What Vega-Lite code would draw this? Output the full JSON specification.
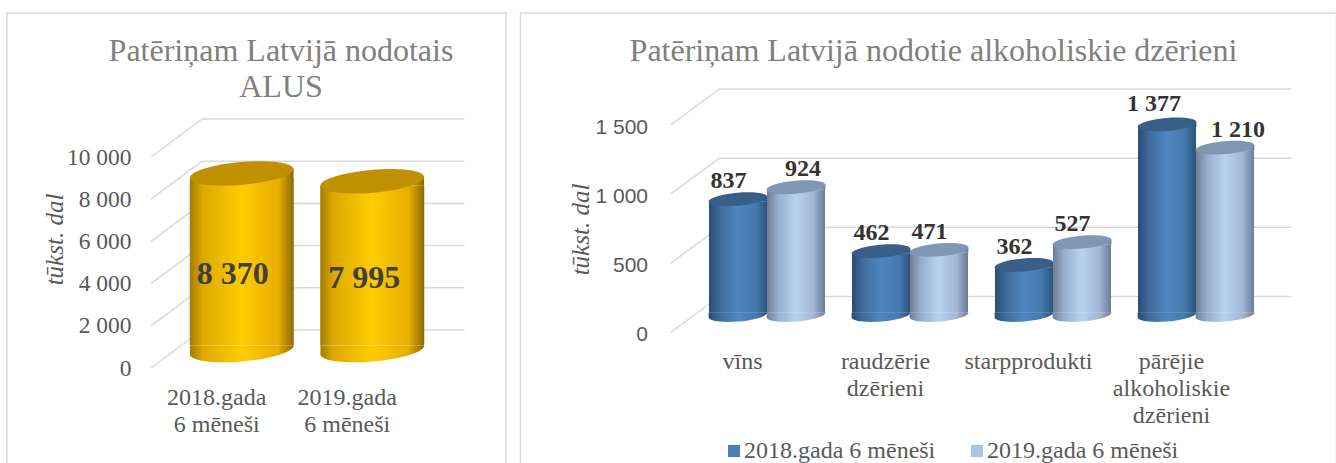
{
"$schema":"https://vega.github.io/schema/vega-lite/v6.json",
"padding":{"left":6,"top":12,"right":0,"bottom":0},
"autosize":{"type":"pad"},
"background":"white",
"spacing":12.5,
"config":{"view":{"stroke":"#d9d9d9","strokeWidth":1.5},"concat":{"spacing":12.5}},
"datasets":{
"beer":[{"period":"2018.gada 6 mēneši","value":8370,"label":"8 370"},{"period":"2019.gada 6 mēneši","value":7995,"label":"7 995"}],
"gridBeer":[{"value":0},{"value":2000},{"value":4000},{"value":6000},{"value":8000},{"value":10000}],
"gridAlc":[{"value":0},{"value":500},{"value":1000},{"value":1500}],
"alc":[
{"cat":"vīns","series":"2018.gada 6 mēneši","value":837,"label":"837"},
{"cat":"vīns","series":"2019.gada 6 mēneši","value":924,"label":"924"},
{"cat":"raudzērie dzērieni","series":"2018.gada 6 mēneši","value":462,"label":"462"},
{"cat":"raudzērie dzērieni","series":"2019.gada 6 mēneši","value":471,"label":"471"},
{"cat":"starpprodukti","series":"2018.gada 6 mēneši","value":362,"label":"362"},
{"cat":"starpprodukti","series":"2019.gada 6 mēneši","value":527,"label":"527"},
{"cat":"pārējie alkoholiskie dzērieni","series":"2018.gada 6 mēneši","value":1377,"label":"1 377"},
{"cat":"pārējie alkoholiskie dzērieni","series":"2019.gada 6 mēneši","value":1210,"label":"1 210"}
]},
"hconcat":[
{"width":499,"height":451,
"title":{"text":["Patēriņam Latvijā nodotais","ALUS"],"font":"Liberation Serif","fontSize":32,"fontWeight":"normal","color":"#7f7f7f","lineHeight":36,"anchor":"middle","frame":"group","dx":24.5,"orient":"top","offset":-91},
"encoding":{"y":{"field":"value","type":"quantitative","stack":null,"scale":{"domain":[0,10000],"range":[355,144],"nice":false,"zero":true},
"axis":{"title":"tūkst. dal","values":[0,2000,4000,6000,8000,10000],"grid":false,"domain":false,"ticks":false,"offset":-124,"labelPadding":0,"labelFont":"Liberation Serif","labelFontSize":23.5,"labelColor":"#595959","labelExpr":"replace(format(datum.value,','),',',' ')","titleFont":"Liberation Serif","titleFontStyle":"italic","titleFontWeight":"normal","titleFontSize":25,"titleColor":"#595959","titleX":-64,"titleY":226}}},
"layer":[
{"data":{"name":"gridBeer"},"layer":[
{"mark":{"type":"rule","color":"#d9d9d9","strokeWidth":1.5,"y2Offset":-38},
"encoding":{"x":{"datum":0,"type":"quantitative","scale":{"domain":[0,1],"range":[144,457.5]},"axis":null},"x2":{"datum":0.163},"y2":{"field":"value"}}},
{"mark":{"type":"rule","color":"#d9d9d9","strokeWidth":1.5,"yOffset":-38},
"encoding":{"x":{"datum":0.163,"type":"quantitative","scale":{"domain":[0,1],"range":[144,457.5]},"axis":null},"x2":{"datum":1}}}
]},
{"data":{"name":"beer"},
"encoding":{"x":{"field":"period","type":"nominal","sort":null,"scale":{"domain":["2018.gada 6 mēneši","2019.gada 6 mēneši"],"range":[169.5,430.5],"paddingInner":0,"paddingOuter":0},
"axis":{"title":null,"domain":false,"ticks":false,"labelAngle":0,"labelOffset":-25,"offset":-79,"labelPadding":0,"labelBaseline":"top","labelFont":"Liberation Serif","labelFontSize":24,"labelLineHeight":27,"labelColor":"#595959","labelExpr":"[slice(datum.label,0,9),slice(datum.label,10)]"}}},
"layer":[
{"mark":{"type":"point","filled":true,"opacity":1,"size":10816,"yOffset":-18,"shape":"M0.996,-0.087C1.007,0.034,0.569,0.171,0.019,0.219C-0.531,0.267,-0.986,0.208,-0.996,0.087L-0.996,-0.087Z","color":{"gradient":"linear","x1":0,"x2":1,"y1":0,"y2":0,"stops":[{"offset":0,"color":"#a37c00"},{"offset":0.12,"color":"#dba800"},{"offset":0.5,"color":"#ffcc00"},{"offset":0.85,"color":"#e8ae00"},{"offset":1,"color":"#8a6a00"}]}},"encoding":{"y":{"datum":0}}},
{"mark":{"type":"bar","width":104,"yOffset":-13.5,"y2Offset":-22.5,"color":{"gradient":"linear","x1":0,"x2":1,"y1":0,"y2":0,"stops":[{"offset":0,"color":"#a37c00"},{"offset":0.12,"color":"#dba800"},{"offset":0.5,"color":"#ffcc00"},{"offset":0.85,"color":"#e8ae00"},{"offset":1,"color":"#8a6a00"}]}},"encoding":{"y2":{"datum":0}}},
{"mark":{"type":"point","filled":true,"opacity":1,"size":10816,"yOffset":-18,"shape":"M-0.996,0.087L0.996,-0.087L0.996,0.087Z","color":{"gradient":"linear","x1":0,"x2":1,"y1":0,"y2":0,"stops":[{"offset":0,"color":"#a37c00"},{"offset":0.12,"color":"#dba800"},{"offset":0.5,"color":"#ffcc00"},{"offset":0.85,"color":"#e8ae00"},{"offset":1,"color":"#8a6a00"}]}}},
{"mark":{"type":"point","filled":true,"opacity":1,"size":10816,"yOffset":-18,"color":"#bf9000","shape":"M0.996,-0.087C1.007,0.034,0.569,0.171,0.019,0.219C-0.531,0.267,-0.986,0.208,-0.996,0.087C-1.007,-0.034,-0.569,-0.171,-0.019,-0.219C0.531,-0.267,0.986,-0.208,0.996,-0.087Z"}},
{"transform":[{"filter":"datum.value===8370"}],"mark":{"type":"text","font":"Liberation Serif","fontSize":32,"fontWeight":"bold","color":"#404040","dx":-9,"dy":83},"encoding":{"text":{"field":"label"}}},
{"transform":[{"filter":"datum.value===7995"}],"mark":{"type":"text","font":"Liberation Serif","fontSize":32,"fontWeight":"bold","color":"#404040","dx":-8,"dy":79},"encoding":{"text":{"field":"label"}}}
]}
],
"resolve":{"scale":{"x":"independent"}}
},
{"width":816,"height":451,
"title":{"text":"Patēriņam Latvijā nodotie alkoholiskie dzērieni","font":"Liberation Serif","fontSize":32,"fontWeight":"normal","color":"#7f7f7f","anchor":"middle","frame":"group","dx":5,"orient":"top","offset":-55},
"encoding":{"y":{"field":"value","type":"quantitative","stack":null,"scale":{"domain":[0,1500],"range":[319.5,112],"nice":false,"zero":true},
"axis":{"title":"tūkst. dal","values":[0,500,1000,1500],"grid":false,"domain":false,"ticks":false,"offset":-127,"labelPadding":0,"labelOffset":2,"labelFont":"Liberation Sans","labelFontSize":21,"labelColor":"#595959","labelExpr":"replace(format(datum.value,','),',',' ')","titleFont":"Liberation Serif","titleFontStyle":"italic","titleFontWeight":"normal","titleFontSize":25,"titleColor":"#595959","titleX":-54,"titleY":216}}},
"layer":[
{"data":{"name":"gridAlc"},"layer":[
{"mark":{"type":"rule","color":"#d9d9d9","strokeWidth":1.5,"y2Offset":-36},
"encoding":{"x":{"datum":0,"type":"quantitative","scale":{"domain":[0,1],"range":[150,771]},"axis":null},"x2":{"datum":0.079},"y2":{"field":"value"}}},
{"mark":{"type":"rule","color":"#d9d9d9","strokeWidth":1.5,"yOffset":-36},
"encoding":{"x":{"datum":0.079,"type":"quantitative","scale":{"domain":[0,1],"range":[150,771]},"axis":null},"x2":{"datum":1}}}
]},
{"data":{"name":"alc"},
"encoding":{"x":{"field":"cat","type":"nominal","sort":null,"scale":{"domain":["vīns","raudzērie dzērieni","starpprodukti","pārējie alkoholiskie dzērieni"],"range":[175,747],"paddingInner":0,"paddingOuter":0},
"axis":{"title":null,"domain":false,"ticks":false,"labelAngle":0,"labelOffset":-24.5,"offset":-115,"labelPadding":0,"labelBaseline":"top","labelFont":"Liberation Serif","labelFontSize":24,"labelLineHeight":27,"labelColor":"#595959","labelLimit":0,"labelExpr":"split(datum.label,' ')"}},
"xOffset":{"field":"series","type":"nominal","scale":{"domain":["2018.gada 6 mēneši","2019.gada 6 mēneši"],"paddingInner":0,"paddingOuter":0.233}}},
"layer":[
{"mark":{"type":"bar","width":58,"yOffset":-14.93,"y2Offset":-20.07},
"encoding":{"y2":{"datum":0},"color":{"field":"series","type":"nominal","scale":{"domain":["2018.gada 6 mēneši","2019.gada 6 mēneši"],"range":["#4a7ebb","#a9c4e7"]},
"legend":{"title":null,"orient":"none","legendX":715,"legendY":426,"direction":"horizontal","symbolType":"square","symbolSize":144,"symbolStrokeWidth":0,"labelFont":"Liberation Serif","labelFontSize":24,"labelColor":"#595959","labelLimit":0,"columnPadding":29,"labelOffset":-2}}}},
{"transform":[{"filter":"datum.series==='2018.gada 6 mēneši'"}],"layer":[
{"mark":{"type":"point","filled":true,"opacity":1,"size":3481,"yOffset":-17.5,"shape":"M0.996,-0.087C1.007,0.034,0.569,0.171,0.019,0.219C-0.531,0.267,-0.986,0.208,-0.996,0.087L-0.996,-0.087Z","color":{"gradient":"linear","x1":0,"x2":1,"y1":0,"y2":0,"stops":[{"offset":0,"color":"#2b4d70"},{"offset":0.2,"color":"#3e6d9f"},{"offset":0.5,"color":"#4f86bf"},{"offset":0.8,"color":"#457aae"},{"offset":1,"color":"#2e5378"}]}},"encoding":{"y":{"datum":0}}},
{"mark":{"type":"bar","width":58,"yOffset":-14.93,"y2Offset":-20.07,"color":{"gradient":"linear","x1":0,"x2":1,"y1":0,"y2":0,"stops":[{"offset":0,"color":"#2b4d70"},{"offset":0.2,"color":"#3e6d9f"},{"offset":0.5,"color":"#4f86bf"},{"offset":0.8,"color":"#457aae"},{"offset":1,"color":"#2e5378"}]}},"encoding":{"y2":{"datum":0}}},
{"mark":{"type":"point","filled":true,"opacity":1,"size":3481,"yOffset":-17.5,"shape":"M-0.996,0.087L0.996,-0.087L0.996,0.087Z","color":{"gradient":"linear","x1":0,"x2":1,"y1":0,"y2":0,"stops":[{"offset":0,"color":"#2b4d70"},{"offset":0.2,"color":"#3e6d9f"},{"offset":0.5,"color":"#4f86bf"},{"offset":0.8,"color":"#457aae"},{"offset":1,"color":"#2e5378"}]}}},
{"mark":{"type":"point","filled":true,"opacity":1,"size":3481,"yOffset":-17.5,"color":"#375f88","shape":"M0.996,-0.087C1.007,0.034,0.569,0.171,0.019,0.219C-0.531,0.267,-0.986,0.208,-0.996,0.087C-1.007,-0.034,-0.569,-0.171,-0.019,-0.219C0.531,-0.267,0.986,-0.208,0.996,-0.087Z"}}
]},
{"transform":[{"filter":"datum.series==='2019.gada 6 mēneši'"}],"layer":[
{"mark":{"type":"point","filled":true,"opacity":1,"size":3481,"yOffset":-17.5,"shape":"M0.996,-0.087C1.007,0.034,0.569,0.171,0.019,0.219C-0.531,0.267,-0.986,0.208,-0.996,0.087L-0.996,-0.087Z","color":{"gradient":"linear","x1":0,"x2":1,"y1":0,"y2":0,"stops":[{"offset":0,"color":"#6d7f97"},{"offset":0.2,"color":"#98b0d0"},{"offset":0.5,"color":"#b9d2f1"},{"offset":0.8,"color":"#a0b6d6"},{"offset":1,"color":"#6b7d95"}]}},"encoding":{"y":{"datum":0}}},
{"mark":{"type":"bar","width":58,"yOffset":-14.93,"y2Offset":-20.07,"color":{"gradient":"linear","x1":0,"x2":1,"y1":0,"y2":0,"stops":[{"offset":0,"color":"#6d7f97"},{"offset":0.2,"color":"#98b0d0"},{"offset":0.5,"color":"#b9d2f1"},{"offset":0.8,"color":"#a0b6d6"},{"offset":1,"color":"#6b7d95"}]}},"encoding":{"y2":{"datum":0}}},
{"mark":{"type":"point","filled":true,"opacity":1,"size":3481,"yOffset":-17.5,"shape":"M-0.996,0.087L0.996,-0.087L0.996,0.087Z","color":{"gradient":"linear","x1":0,"x2":1,"y1":0,"y2":0,"stops":[{"offset":0,"color":"#6d7f97"},{"offset":0.2,"color":"#98b0d0"},{"offset":0.5,"color":"#b9d2f1"},{"offset":0.8,"color":"#a0b6d6"},{"offset":1,"color":"#6b7d95"}]}}},
{"mark":{"type":"point","filled":true,"opacity":1,"size":3481,"yOffset":-17.5,"color":"#7f97b2","shape":"M0.996,-0.087C1.007,0.034,0.569,0.171,0.019,0.219C-0.531,0.267,-0.986,0.208,-0.996,0.087C-1.007,-0.034,-0.569,-0.171,-0.019,-0.219C0.531,-0.267,0.986,-0.208,0.996,-0.087Z"}}
]},
{"transform":[{"filter":"indexof([924,1377,1210],datum.value)<0"}],"mark":{"type":"text","font":"Liberation Serif","fontSize":24,"fontWeight":"bold","color":"#333333","dx":-9.5,"dy":-35.5},"encoding":{"text":{"field":"label"}}},
{"transform":[{"filter":"datum.value===924"}],"mark":{"type":"text","font":"Liberation Serif","fontSize":24,"fontWeight":"bold","color":"#333333","dx":7,"dy":-35.5},"encoding":{"text":{"field":"label"}}},
{"transform":[{"filter":"datum.value===1377"}],"mark":{"type":"text","font":"Liberation Serif","fontSize":24,"fontWeight":"bold","color":"#333333","dx":-13,"dy":-38.5},"encoding":{"text":{"field":"label"}}},
{"transform":[{"filter":"datum.value===1210"}],"mark":{"type":"text","font":"Liberation Serif","fontSize":24,"fontWeight":"bold","color":"#333333","dx":13,"dy":-35},"encoding":{"text":{"field":"label"}}}
]}
],
"resolve":{"scale":{"x":"independent"}}
}
]
}
